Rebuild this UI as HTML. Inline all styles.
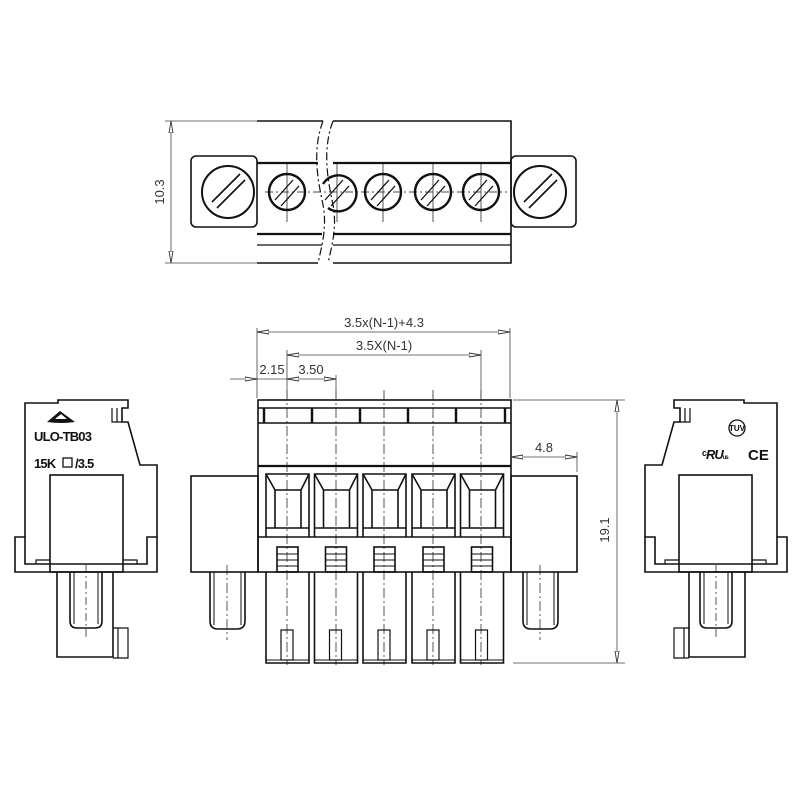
<!DOCTYPE html>
<html><head><meta charset="utf-8"><style>html,body{margin:0;padding:0;background:#fff}svg{display:block}</style></head>
<body>
<svg width="800" height="800" viewBox="0 0 800 800" xmlns="http://www.w3.org/2000/svg" font-family="'Liberation Sans Narrow','Liberation Sans',sans-serif">
<defs>
<marker id="ar" markerWidth="12" markerHeight="6" refX="12" refY="3" orient="auto-start-reverse" markerUnits="userSpaceOnUse"><path d="M0,1 L12,3 L0,5 Z" fill="#fff" stroke="#333" stroke-width="0.9"/></marker>
</defs>
<g fill="none" stroke="#111" stroke-width="1.6">
<!-- TOP VIEW -->
<rect x="191" y="156" width="66" height="71" rx="5"/>
<rect x="511" y="156" width="65" height="71" rx="5"/>
<path d="M257,121 H323 M333,121 H511 V263 H333 M318,263 H257 Z"/>
<line x1="257" y1="163" x2="318" y2="163" stroke-width="2.2"/><line x1="333" y1="163" x2="511" y2="163" stroke-width="2.2"/>
<line x1="257" y1="234" x2="322" y2="234" stroke-width="2.2"/><line x1="333" y1="234" x2="511" y2="234" stroke-width="2.2"/>
<line x1="257" y1="245" x2="322" y2="245" stroke-width="1.2"/><line x1="333" y1="245" x2="511" y2="245" stroke-width="1.2"/>
<path d="M323,121 C312,150 318,180 322,200 C328,225 322,245 318,263" stroke-width="1.2" stroke-dasharray="8,3,2,3"/>
<path d="M333,121 C322,150 328,180 332,200 C338,225 332,245 328,263" stroke-width="1.2" stroke-dasharray="8,3,2,3"/>
<circle cx="228" cy="192" r="26" stroke-width="2"/>
<circle cx="540" cy="192" r="26" stroke-width="2"/>
<path d="M212,202 L240,174 M217,208 L245,180" stroke-width="1.6"/>
<path d="M524,202 L552,174 M529,208 L557,180" stroke-width="1.6"/>
<g stroke-width="2.4">
<circle cx="287" cy="192" r="18"/><circle cx="383" cy="192" r="18"/><circle cx="433" cy="192" r="18"/><circle cx="481" cy="192" r="18"/>
<path d="M323,184 A18,18 0 1 1 328,208"/>
</g>
<g stroke-width="1.3">
<path d="M275,200 L293,180 M281,206 L299,186"/>
<path d="M325,200 L343,180 M331,206 L349,186"/>
<path d="M371,200 L389,180 M377,206 L395,186"/>
<path d="M421,200 L439,180 M427,206 L445,186"/>
<path d="M469,200 L487,180 M475,206 L493,186"/>
</g>
<g stroke-width="0.7">
<line x1="265" y1="192" x2="507" y2="192" stroke-dasharray="8,3,2,3"/>
<path d="M287,162 V222 M337,162 V222 M383,162 V222 M433,162 V222 M481,162 V222"/>
</g>
<g stroke="#444" stroke-width="0.8">
<path d="M165,121 H257 M165,263 H257"/>
<line x1="171" y1="121" x2="171" y2="263" marker-start="url(#ar)" marker-end="url(#ar)"/>
</g>

<!-- FRONT VIEW -->
<rect x="258" y="400" width="253" height="172"/>
<line x1="258" y1="408" x2="511" y2="408"/>
<line x1="258" y1="423" x2="511" y2="423"/>
<path d="M264,408 V423 M312,408 V423 M360,408 V423 M408,408 V423 M456,408 V423 M505,408 V423" stroke-width="2.4"/>
<line x1="258" y1="466" x2="511" y2="466" stroke-width="2.2"/>
<line x1="258" y1="537" x2="511" y2="537"/>
<rect x="191" y="476" width="67" height="96"/>
<rect x="511" y="476" width="66" height="96"/>
<g id="cell">
<path d="M266,537 V474 H309 V537"/>
<path d="M266,474 L275,490 H301 L309,474 M275,490 V528 M301,490 V528 M266,528 H309"/>
<rect x="277" y="547" width="21" height="25"/>
<path d="M277,554 H298 M277,560 H298 M277,566 H298" stroke-width="1"/>
<path d="M266,572 V663 H309 V572"/>
<path d="M266,660 H309" stroke-width="1"/>
<rect x="281" y="630" width="12" height="30" stroke-width="1.2"/>
</g>
<use href="#cell" x="48.5"/><use href="#cell" x="97"/><use href="#cell" x="146"/><use href="#cell" x="194.5"/>
<path d="M210,572 V621 Q210,629 218,629 H237 Q245,629 245,621 V572"/>
<path d="M214,572 V625 M241,572 V625" stroke-width="1"/>
<path d="M523,572 V621 Q523,629 531,629 H550 Q558,629 558,621 V572"/>
<path d="M527,572 V625 M554,572 V625" stroke-width="1"/>
<g stroke-width="0.7" stroke-dasharray="10,3,2,3">
<path d="M287,390 V665 M336,390 V665 M384,390 V665 M433,390 V665 M481,390 V665 M227,565 V640 M540,565 V640"/>
</g>
<!-- dims -->
<g stroke="#444" stroke-width="0.8">
<path d="M257,328 V398 M510,328 V398 M287,350 V398 M481,350 V398 M336,375 V398 M384,395 V398 M433,395 V398"/>
<line x1="257" y1="332" x2="510" y2="332" marker-start="url(#ar)" marker-end="url(#ar)"/>
<line x1="287" y1="355" x2="481" y2="355" marker-start="url(#ar)" marker-end="url(#ar)"/>
<line x1="230" y1="379" x2="257" y2="379" marker-end="url(#ar)"/>
<line x1="257" y1="379" x2="287" y2="379"/>
<line x1="287" y1="379" x2="336" y2="379" marker-start="url(#ar)" marker-end="url(#ar)"/>
<path d="M513,400 H625 M513,663 H625 M577,452 V472"/>
<line x1="617" y1="400" x2="617" y2="663" marker-start="url(#ar)" marker-end="url(#ar)"/>
<line x1="511" y1="457" x2="577" y2="457" marker-start="url(#ar)" marker-end="url(#ar)"/>
</g>

<!-- LEFT SIDE VIEW -->
<g id="side">
<path d="M25,537 V403 H58 V400 H128 V408 H122 V422 L128,422 L140,465 H157 V537"/>
<path d="M112,408 V422 H122 M117,408 V422" stroke-width="1.2"/>
<path d="M15,537 V572 H157 V537 H147 V564 H25 V537 Z"/>
<path d="M15,537 H25 M147,537 H157" stroke-width="1"/>
<path d="M36,564 V560 H50 M123,560 H137 V564" stroke-width="1.2"/>
<rect x="50" y="475" width="73" height="97"/>
<path d="M57,572 V657 H113 V572"/>
<path d="M70,572 V621 Q70,628 77,628 H95 Q102,628 102,621 V572"/>
<path d="M74,572 V624 M98,572 V624" stroke-width="1"/>
<path d="M113,628 H128 V658 H113 M118,628 V658" stroke-width="1.2"/>
<path d="M86,565 V640" stroke-width="0.7" stroke-dasharray="8,3,2,3"/>
</g>
<use href="#side" transform="translate(802,0) scale(-1,1)"/>
</g>

<!-- logos -->
<path d="M47,422 L60,411 L75,422 Q62,424 47,422 Z" fill="#111"/>
<path d="M55,419 L61,414 L67,419 Z" fill="#fff"/>
<g font-family="'Liberation Sans',sans-serif" font-weight="bold" fill="#111" font-size="13" letter-spacing="-0.8">
<text x="34" y="441">ULO-TB03</text>
<text x="34" y="468">15K</text>
<text x="75" y="468">/3.5</text>
</g>
<rect x="63" y="458" width="9" height="9" fill="none" stroke="#111" stroke-width="1.3"/>
<circle cx="737" cy="428" r="8" fill="none" stroke="#111" stroke-width="1.3"/>
<text x="737" y="431" font-size="8" text-anchor="middle" font-family="'Liberation Sans',sans-serif" font-weight="bold" fill="#111">TUV</text>
<text x="702" y="459" font-size="13" font-family="'Liberation Sans',sans-serif" font-weight="bold" fill="#111" letter-spacing="-1">ᶜ<tspan font-style="italic">RU</tspan><tspan font-size="6">us</tspan></text>
<text x="748" y="460" font-size="15" font-family="'Liberation Sans',sans-serif" font-weight="bold" fill="#111">CE</text>

<!-- dimension text -->
<g fill="#333" font-size="13">
<text x="384" y="327" text-anchor="middle">3.5x(N-1)+4.3</text>
<text x="384" y="350" text-anchor="middle">3.5X(N-1)</text>
<text x="272" y="374" text-anchor="middle">2.15</text>
<text x="311" y="374" text-anchor="middle">3.50</text>
<text x="544" y="452" text-anchor="middle">4.8</text>
<text transform="translate(609,530) rotate(-90)" text-anchor="middle">19.1</text>
<text transform="translate(164,192) rotate(-90)" text-anchor="middle">10.3</text>
</g>
</svg>
</body></html>
